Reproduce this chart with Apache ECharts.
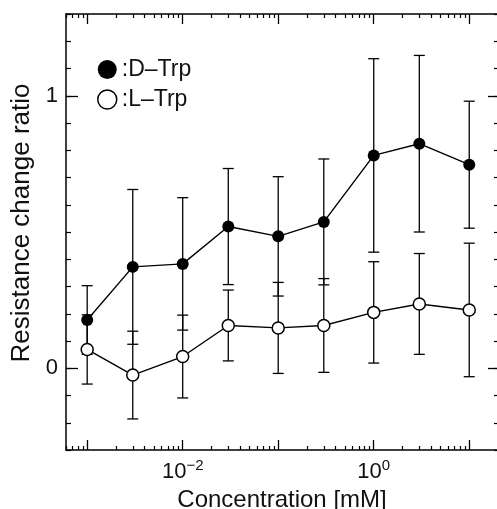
<!DOCTYPE html>
<html>
<head>
<meta charset="utf-8">
<script src="https://cdn.jsdelivr.net/npm/echarts@6/dist/echarts.min.js"></script>
<style>
html,body{margin:0;padding:0;background:#fff;}
#chart{width:497px;height:509px;}
</style>
</head>
<body>
<div id="chart"></div>
<script>
// ---- data ----
var concentrations = [0.001, 0.003, 0.01, 0.03, 0.1, 0.3, 1, 3, 10]; // mM
var dTrpMean = [0.177, 0.372, 0.383, 0.520, 0.484, 0.537, 0.781, 0.824, 0.747];
var dTrpErr  = [0.126, 0.284, 0.243, 0.213, 0.219, 0.231, 0.355, 0.324, 0.233];
var lTrpMean = [0.069, -0.025, 0.043, 0.157, 0.148, 0.157, 0.205, 0.236, 0.214];
var lTrpErr  = [0.127, 0.161, 0.152, 0.130, 0.167, 0.172, 0.186, 0.185, 0.245];
var seriesNames = ['D\u2013Trp', 'L\u2013Trp'];
var xMajorTicks = [0.001, 0.01, 0.1, 1, 10];
var xLabelTicks = [0.01, 1];
var xMinorTicks = [0.0006, 0.0007, 0.0008, 0.0009,
  0.002, 0.003, 0.004, 0.005, 0.006, 0.007, 0.008, 0.009,
  0.02, 0.03, 0.04, 0.05, 0.06, 0.07, 0.08, 0.09,
  0.2, 0.3, 0.4, 0.5, 0.6, 0.7, 0.8, 0.9,
  2, 3, 4, 5, 6, 7, 8, 9];
var yLabelTicks = [0, 1];
var xRange = [0.0006, 20];
var yRange = [-0.3, 1.3];
var yMinorStep = 0.1;

// ---- build ----
var lg = function (v) { return Math.log10(v); };
var FONT = 'Liberation Sans, Arial, sans-serif';
var xMin = lg(xRange[0]), xMax = lg(xRange[1]);

function pts(means) {
  return concentrations.map(function (c, i) { return [lg(c), means[i]]; });
}
function bars(means, errs) {
  return concentrations.map(function (c, i) { return [lg(c), means[i] - errs[i], means[i] + errs[i]]; });
}
function renderBar(params, api) {
  var x = api.value(0);
  var lo = api.coord([x, api.value(1)]);
  var hi = api.coord([x, api.value(2)]);
  var hw = 5.5;
  var st = { stroke: '#000', lineWidth: 1.3, fill: null };
  return {
    type: 'group',
    children: [
      { type: 'line', shape: { x1: lo[0], y1: lo[1], x2: hi[0], y2: hi[1] }, style: st },
      { type: 'line', shape: { x1: lo[0] - hw, y1: lo[1], x2: lo[0] + hw, y2: lo[1] }, style: st },
      { type: 'line', shape: { x1: hi[0] - hw, y1: hi[1], x2: hi[0] + hw, y2: hi[1] }, style: st }
    ]
  };
}

function xAxisBase(pos) {
  return {
    type: 'value', position: pos, min: xMin, max: xMax, gridIndex: 0,
    splitLine: { show: false },
    axisLine: { show: false, onZero: false },
    axisTick: { show: false },
    axisLabel: { show: false }
  };
}
var xAxes = [];
// bottom major
var a = xAxisBase('bottom');
a.axisLine = { show: true, onZero: false, lineStyle: { color: '#000', width: 1.5 } };
a.axisTick = { show: true, inside: true, length: 10, customValues: xMajorTicks.map(lg), lineStyle: { color: '#000', width: 1.3 } };
a.axisLabel = {
  show: true, margin: 8, customValues: xLabelTicks.map(lg),
  formatter: function (v) {
    var e = Math.round(v);
    return '{b|10}{s|' + (e < 0 ? '\u2212' + (-e) : e) + '}';
  },
  rich: {
    b: { fontSize: 22, fontFamily: FONT, color: '#111' },
    s: { fontSize: 15, fontFamily: FONT, color: '#111', padding: [0, 0, 12, 0] }
  }
};
a.name = 'Concentration [mM]';
a.nameLocation = 'middle';
a.nameGap = 38;
a.nameTextStyle = { fontSize: 24, fontFamily: FONT, color: '#111' };
xAxes.push(a);
// bottom minor
a = xAxisBase('bottom');
a.axisTick = { show: true, inside: true, length: 4, customValues: xMinorTicks.map(lg), lineStyle: { color: '#000', width: 1.2 } };
xAxes.push(a);
// top major
a = xAxisBase('top');
a.axisLine = { show: true, onZero: false, lineStyle: { color: '#000', width: 1.5 } };
a.axisTick = { show: true, inside: true, length: 10, customValues: xMajorTicks.map(lg), lineStyle: { color: '#000', width: 1.3 } };
xAxes.push(a);
// top minor
a = xAxisBase('top');
a.axisTick = { show: true, inside: true, length: 4, customValues: xMinorTicks.map(lg), lineStyle: { color: '#000', width: 1.2 } };
xAxes.push(a);

function yAxisBase(pos) {
  return {
    type: 'value', position: pos, min: yRange[0], max: yRange[1], interval: yMinorStep, gridIndex: 0,
    splitLine: { show: false },
    axisLine: { show: false, onZero: false },
    axisTick: { show: false },
    axisLabel: { show: false }
  };
}
var yAxes = [];
var b = yAxisBase('left');
b.axisLine = { show: true, onZero: false, lineStyle: { color: '#000', width: 1.5 } };
b.axisTick = { show: true, inside: true, length: 5, lineStyle: { color: '#000', width: 1.2 } };
yAxes.push(b);
b = yAxisBase('left');
b.axisTick = { show: true, inside: true, length: 12, customValues: yLabelTicks, lineStyle: { color: '#000', width: 1.3 } };
b.axisLabel = { show: true, customValues: yLabelTicks, margin: 8, fontSize: 22, fontFamily: FONT, color: '#111' };
b.name = 'Resistance change ratio';
b.nameLocation = 'middle';
b.nameGap = 30;
b.nameTextStyle = { fontSize: 26, fontFamily: FONT, color: '#111', padding: [0, 0, 0, 18] };
yAxes.push(b);
b = yAxisBase('right');
b.axisLine = { show: true, onZero: false, lineStyle: { color: '#000', width: 1.5 } };
b.axisTick = { show: true, inside: true, length: 4, lineStyle: { color: '#000', width: 1.2 } };
yAxes.push(b);
b = yAxisBase('right');
b.axisTick = { show: true, inside: true, length: 10, customValues: yLabelTicks, lineStyle: { color: '#000', width: 1.3 } };
yAxes.push(b);

var chart = echarts.init(document.getElementById('chart'), null, { renderer: 'canvas' });
chart.setOption({
  animation: false,
  backgroundColor: '#fff',
  grid: { left: 66, top: 14, width: 432, height: 436, outerBoundsMode: 'none', containLabel: false },
  legend: {
    left: 97, top: 58, orient: 'vertical', itemWidth: 19, itemHeight: 19, itemGap: 7,
    padding: 0,
    selectedMode: false,
    formatter: ':{name}',
    textStyle: { fontSize: 23, fontFamily: FONT, color: '#111' },
    data: [
      { name: seriesNames[0], icon: 'circle', itemStyle: { color: '#000', borderWidth: 0 } },
      { name: seriesNames[1], icon: 'circle', itemStyle: { color: '#fff', borderColor: '#000', borderWidth: 1.5 } }
    ]
  },
  xAxis: xAxes,
  yAxis: yAxes,
  series: [
    { type: 'custom', name: 'dErr', renderItem: renderBar, data: bars(dTrpMean, dTrpErr), z: 1, silent: true },
    { type: 'custom', name: 'lErr', renderItem: renderBar, data: bars(lTrpMean, lTrpErr), z: 1, silent: true },
    {
      type: 'line', name: seriesNames[0], data: pts(dTrpMean), z: 3,
      symbol: 'circle', symbolSize: 12,
      itemStyle: { color: '#000', borderWidth: 0 },
      lineStyle: { color: '#000', width: 1.4 }
    },
    {
      type: 'line', name: seriesNames[1], data: pts(lTrpMean), z: 3,
      symbol: 'circle', symbolSize: 12,
      itemStyle: { color: '#fff', borderColor: '#000', borderWidth: 1.5 },
      lineStyle: { color: '#000', width: 1.4 }
    }
  ]
});
</script>
</body>
</html>
